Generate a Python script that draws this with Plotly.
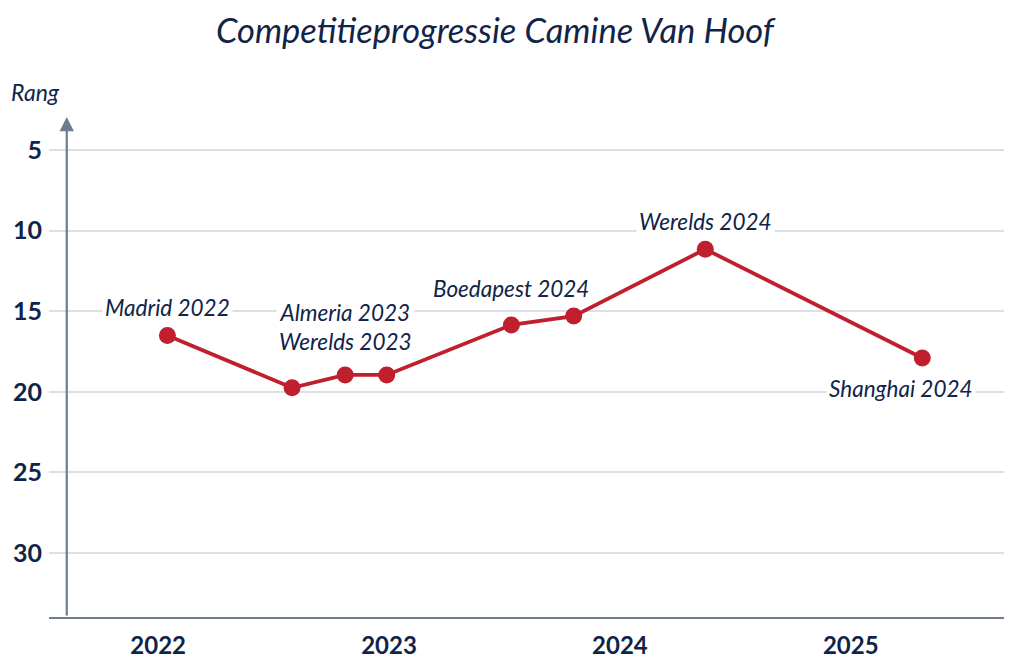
import plotly.graph_objects as go

# competition moments (decimal year) and ranking
wedstrijd_x = [2022.04, 2022.58, 2022.81, 2022.99, 2023.53, 2023.80, 2024.37, 2025.31]
rang = [16.5, 19.75, 18.95, 18.95, 15.85, 15.3, 11.15, 17.9]

jaren = [2022, 2023, 2024, 2025]
jaar_labels = ["2022", "2023", "2024", "2025"]
rang_ticks = [5, 10, 15, 20, 25, 30]

# label text, index of the point it belongs to, pixel offset
labels = [
    ("Madrid 2022", 0, 0, 28),
    ("Almeria 2023<br>Werelds 2023", 2, 0, 48),
    ("Boedapest 2024", 4, 0, 36),
    ("Werelds 2024", 6, 0, 28),
    ("Shanghai 2024", 7, -21, -31),
]

navy = "#10244a"
rood = "#c01f2d"
as_kleur = "#6e7d92"
grid = "#dcdfe4"

fig = go.Figure()

fig.add_trace(
    go.Scatter(
        x=wedstrijd_x,
        y=rang,
        mode="lines+markers",
        line=dict(color=rood, width=3.8),
        marker=dict(color=rood, size=17),
        hoverinfo="skip",
    )
)

for tekst, i, dx, dy in labels:
    fig.add_annotation(
        x=wedstrijd_x[i], y=rang[i], text=tekst,
        showarrow=False, xshift=dx, yshift=dy,
        font=dict(family="Lato", size=22.5, color=navy, style="italic"),
        bgcolor="white", borderpad=2,
    )

# y axis with arrow head
fig.add_annotation(
    x=2021.604, y=2.95, ax=2021.604, ay=33.97,
    xref="x", yref="y", axref="x", ayref="y",
    showarrow=True, arrowhead=2, arrowsize=1.3, arrowwidth=2.2,
    arrowcolor=as_kleur, text="",
)

fig.add_annotation(
    x=-0.014, y=1.05, xref="paper", yref="paper", text="Rang", showarrow=False,
    xanchor="center", yanchor="middle",
    font=dict(family="Lato", size=23, color=navy, style="italic"),
)

# the page body adds an 8px margin, so the figure is 8px smaller on each side
fig.update_layout(
    width=1004,
    height=650,
    paper_bgcolor="white",
    plot_bgcolor="white",
    showlegend=False,
    margin=dict(l=41, r=2, t=109, b=41),
    title=dict(
        text="Competitieprogressie Camine Van Hoof",
        x=0.485, xanchor="center", y=0.965, yanchor="middle",
        font=dict(family="Lato", size=34.5, color=navy, style="italic"),
    ),
    xaxis=dict(
        range=[2021.527, 2025.69],
        tickvals=jaren,
        ticktext=jaar_labels,
        showgrid=False,
        zeroline=False,
        showline=True,
        linecolor=as_kleur,
        linewidth=2.2,
        ticks="",
        ticklabelstandoff=6,
        automargin=False,
        tickfont=dict(family="Lato", size=24, color=navy, weight="bold"),
    ),
    yaxis=dict(
        range=[33.97, 2.95],
        tickvals=rang_ticks,
        showgrid=True,
        gridcolor=grid,
        gridwidth=1.5,
        zeroline=False,
        showline=False,
        ticks="",
        ticklabelstandoff=6,
        automargin=False,
        tickfont=dict(family="Lato", size=25, color=navy, weight="bold"),
    ),
)

fig.write_html("out.html")
